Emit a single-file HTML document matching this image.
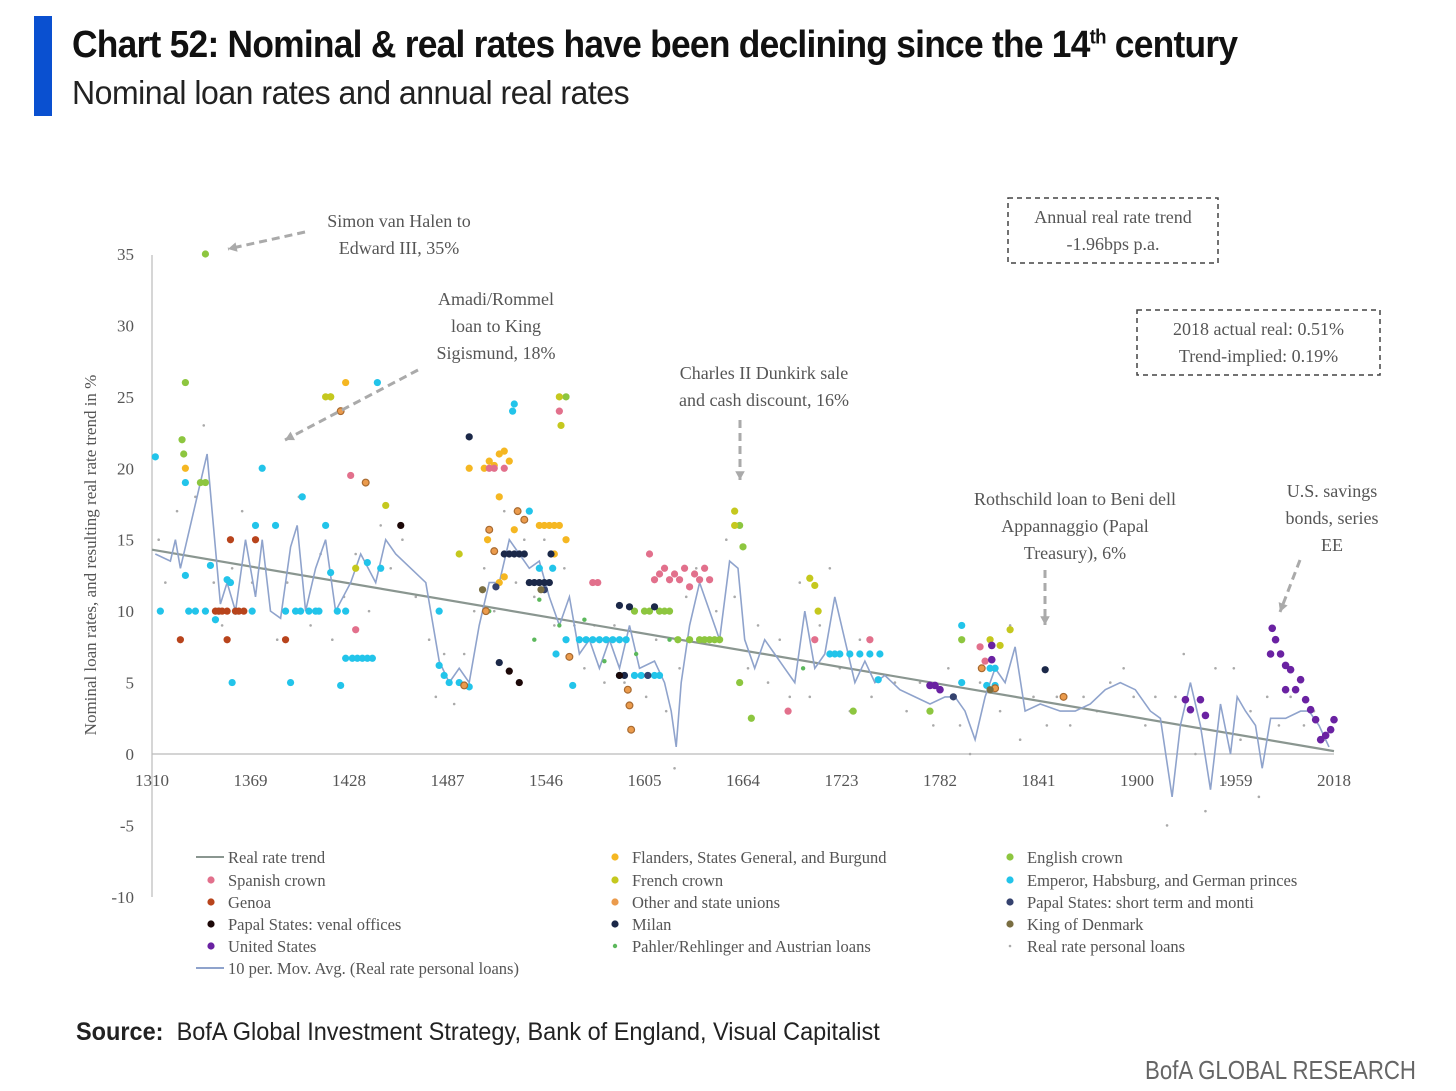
<!DOCTYPE html>
<html><head><meta charset="utf-8">
<style>
html,body{margin:0;padding:0;background:#fff;}
body{width:1456px;height:1091px;overflow:hidden;position:relative;font-family:"Liberation Sans",sans-serif;}
#bar{position:absolute;left:34px;top:16px;width:18px;height:100px;background:#0a50d0;}
#title{position:absolute;left:72px;top:24px;font-family:"Liberation Sans",sans-serif;font-weight:bold;font-size:38px;color:#111;letter-spacing:-0.8px;white-space:nowrap;transform:scaleX(0.93);transform-origin:0 0;}
#title sup{font-size:20px;}
#subtitle{position:absolute;left:72px;top:74px;font-family:"Liberation Sans",sans-serif;font-size:33px;color:#222;white-space:nowrap;letter-spacing:-0.5px;transform:scaleX(0.97);transform-origin:0 0;}
#source{position:absolute;left:76px;top:1018px;font-family:"Liberation Sans",sans-serif;font-size:25px;color:#222;white-space:nowrap;transform:scaleX(0.94);transform-origin:0 0;}
#brand{position:absolute;left:1145px;top:1055px;font-family:"Liberation Sans",sans-serif;font-size:26px;color:#666;white-space:nowrap;transform:scaleX(0.855);transform-origin:0 0;}
svg{position:absolute;left:0;top:0;}
svg text{font-family:"Liberation Serif",serif;fill:#555;}
</style></head><body>
<div id="bar"></div>
<div id="title">Chart 52: Nominal &amp; real rates have been declining since the 14<sup>th</sup> century</div>
<div id="subtitle">Nominal loan rates and annual real rates</div>
<div id="source"><b>Source:</b>&nbsp; BofA Global Investment Strategy, Bank of England, Visual Capitalist</div>
<div id="brand">BofA GLOBAL RESEARCH</div>
<svg id="chart" width="1456" height="1091" viewBox="0 0 1456 1091"></svg>
<script>
const xTicks=[1310,1369,1428,1487,1546,1605,1664,1723,1782,1841,1900,1959,2018];
const yTicks=[35,30,25,20,15,10,5,0,-5,-10];
const trendYears=[1310,2018];
const trendVals=[14.3,0.2];
const maYears=[1312,1321,1324,1327,1333,1339,1343,1346,1351,1355,1360,1366,1372,1376,1381,1387,1393,1397,1402,1408,1414,1420,1429,1435,1444,1450,1456,1465,1474,1482,1488,1494,1500,1506,1512,1518,1524,1530,1536,1542,1548,1554,1560,1566,1572,1578,1584,1590,1596,1602,1611,1617,1621,1624,1627,1632,1638,1644,1650,1656,1661,1665,1671,1677,1683,1689,1695,1701,1707,1713,1719,1725,1731,1737,1743,1749,1758,1767,1776,1785,1791,1797,1803,1809,1815,1821,1827,1833,1842,1854,1863,1872,1881,1890,1899,1908,1914,1921,1926,1932,1938,1944,1950,1956,1960,1965,1971,1975,1980,1989,1998,2003,2009,2015];
const maVals=[14,13.5,15,13,16,19,21,17,10.5,12,10,15,11,15,10,9.5,14.5,16,10,13,15,10,12,14,12,15,14,13,12,6.5,5,6,5,9,12,12,15,14,13,13.5,11,9,11,7,8,6,8,6,9,6,6.5,5,3,0.5,5,9,12,10,8,13.5,13,8,6,8,7,6,5,10,6,7,11,8,5,6.5,5,5.5,4.5,4,3.5,4,4,3,1,4,6,5,7.5,3,3.5,3,3,3.5,4.5,5,4.5,3,2.5,-3,2,5,2,-2.5,3.5,0,4,3,2,-1,2.5,2.5,3,3,2,0.5];
const personalLoans=[[1314,15],[1318,12],[1325,17],[1336,18],[1341,23],[1347,12],[1352,9],[1358,13],[1364,17],[1370,12],[1378,13],[1385,8],[1391,12],[1398,18],[1405,9],[1411,14],[1418,8],[1425,11],[1432,14],[1440,10],[1447,16],[1453,13],[1460,15],[1468,11],[1476,8],[1480,4],[1485,7],[1491,3.5],[1497,7],[1503,10],[1509,13],[1515,10],[1521,17],[1528,12],[1533,15],[1539,11],[1545,15],[1551,9],[1557,13],[1563,9],[1569,6],[1575,9],[1581,5],[1587,9],[1593,5],[1599,10],[1606,4],[1612,8],[1618,3],[1623,-1],[1626,6],[1630,11],[1636,13],[1642,8],[1648,10],[1654,15],[1659,11],[1667,6],[1673,9],[1679,5],[1686,8],[1692,4],[1698,12],[1704,4],[1710,9],[1716,13],[1722,6],[1728,3],[1734,8],[1741,4],[1747,7],[1755,5],[1762,3],[1770,5],[1778,2],[1787,6],[1794,2],[1800,0],[1806,5],[1812,8],[1818,3],[1824,9],[1830,1],[1838,4],[1846,2],[1852,4],[1860,2],[1868,4],[1876,3],[1884,5],[1892,6],[1898,4],[1905,2],[1911,4],[1918,-5],[1923,4],[1928,7],[1935,0],[1941,-4],[1947,6],[1953,-2],[1958,6],[1962,1],[1968,3],[1973,-3],[1978,4],[1985,2],[1992,4],[2000,2],[2006,3],[2012,1]];
const emperor=[[1312,20.8],[1315,10],[1330,19],[1330,12.5],[1332,10],[1336,10],[1342,10],[1345,13.2],[1348,9.4],[1350,10],[1355,12.2],[1357,12],[1358,5],[1360,10],[1370,10],[1372,16],[1376,20],[1384,16],[1390,10],[1393,5],[1396,10],[1399,10],[1400,18],[1404,10],[1408,10],[1410,10],[1414,16],[1417,12.7],[1421,10],[1423,4.8],[1426,6.7],[1426,10],[1430,6.7],[1433,6.7],[1436,6.7],[1439,6.7],[1442,6.7],[1445,26],[1439,13.4],[1447,13],[1482,10],[1482,6.2],[1485,5.5],[1488,5],[1494,5],[1500,4.7],[1527,24.5],[1526,24],[1536,17],[1542,13],[1550,13],[1552,7],[1558,8],[1562,4.8],[1566,8],[1570,8],[1574,8],[1578,8],[1582,8],[1586,8],[1590,8],[1594,8],[1590,5.5],[1599,5.5],[1603,5.5],[1607,5.5],[1611,5.5],[1614,5.5],[1716,7],[1719,7],[1722,7],[1728,7],[1734,7],[1740,7],[1746,7],[1745,5.2],[1795,9],[1795,5],[1810,4.8],[1812,6],[1815,4.8],[1815,6]];
const spanish=[[1429,19.5],[1432,8.7],[1512,20],[1515,20],[1521,20],[1554,24],[1574,12],[1577,12],[1608,14],[1611,12.2],[1614,12.6],[1617,13],[1620,12.2],[1623,12.6],[1626,12.2],[1629,13],[1632,11.7],[1635,12.6],[1638,12.2],[1641,13],[1644,12.2],[1691,3],[1707,8],[1740,8],[1806,7.5],[1809,6.5]];
const genoa=[[1327,8],[1348,10],[1350,10],[1352,10],[1355,10],[1357,15],[1360,10],[1362,10],[1372,15],[1365,10],[1390,8],[1355,8]];
const papalVenal=[[1459,16],[1524,5.8],[1530,5],[1590,5.5]];
const unitedStates=[[1981,8.8],[1980,7],[1983,8],[1986,7],[1989,6.2],[1992,5.9],[1989,4.5],[1995,4.5],[1998,5.2],[2001,3.8],[2004,3.1],[2007,2.4],[2010,1],[2013,1.3],[2016,1.7],[2018,2.4],[1938,3.8],[1941,2.7],[1929,3.8],[1932,3.1],[1776,4.8],[1779,4.8],[1782,4.5],[1813,7.6],[1813,6.6]];
const flanders=[[1330,20],[1426,26],[1512,20.5],[1515,20.2],[1518,21],[1521,21.2],[1524,20.5],[1509,20],[1518,18],[1527,15.7],[1542,16],[1545,16],[1548,16],[1551,16],[1554,16],[1500,20],[1511,15],[1518,12],[1521,12.4],[1551,14],[1558,15]];
const french=[[1414,25],[1417,25],[1450,17.4],[1432,13],[1494,14],[1554,25],[1555,23],[1659,17],[1659,16],[1704,12.3],[1709,10],[1707,11.8],[1824,8.7],[1818,7.6],[1812,8]];
const otherUnions=[[1423,24],[1438,19],[1510,10],[1512,15.7],[1515,14.2],[1529,17],[1533,16.4],[1560,6.8],[1595,4.5],[1596,3.4],[1597,1.7],[1497,4.8],[1856,4],[1815,4.6],[1807,6]];
const milan=[[1500,22.2],[1518,6.4],[1521,14],[1524,14],[1527,14],[1530,14],[1533,14],[1536,12],[1539,12],[1542,12],[1545,12],[1548,12],[1549,14],[1590,10.4],[1596,10.3],[1611,10.3],[1593,5.5],[1845,5.9]];
const english=[[1342,35],[1330,26],[1328,22],[1329,21],[1339,19],[1342,19],[1417,25],[1558,25],[1599,10],[1605,10],[1608,10],[1614,10],[1617,10],[1620,10],[1638,8],[1641,8],[1644,8],[1647,8],[1650,8],[1662,16],[1664,14.5],[1662,5],[1669,2.5],[1730,3],[1795,8],[1776,3],[1625,8],[1632,8]];
const pahler=[[1512,10],[1539,8],[1542,10.8],[1554,9],[1569,9.4],[1581,6.5],[1578,8],[1600,7],[1620,8],[1700,6]];
const papalShort=[[1516,11.7],[1545,11.5],[1607,5.5],[1790,4]];
const denmark=[[1508,11.5],[1543,11.5],[1812,4.5]];

const svg=document.getElementById('chart');
const NS='http://www.w3.org/2000/svg';
const X0=152,X1=1334,Y0=754,PXU=14.2857;
function xs(y){return X0+(y-1310)*(X1-X0)/708;}
function ys(v){return Y0-v*PXU;}
function mk(tag,attrs,parent){const e=document.createElementNS(NS,tag);for(const k in attrs)e.setAttribute(k,attrs[k]);(parent||svg).appendChild(e);return e;}

let ax=mk('line',{x1:X0,y1:255,x2:X0,y2:897,stroke:'#bbb','stroke-width':1.2});


let bx=mk('line',{x1:X0,y1:Y0,x2:X1,y2:Y0,stroke:'#bbb','stroke-width':1.2});


yTicks.forEach(v=>{const t=mk('text',{x:134,y:ys(v)+6,'text-anchor':'end','font-size':17});t.textContent=v;

});
xTicks.forEach(v=>{const t=mk('text',{x:xs(v),y:786,'text-anchor':'middle','font-size':17});t.textContent=v;

});
const yt=mk('text',{x:0,y:0,'text-anchor':'middle','font-size':17,transform:'translate(96,555) rotate(-90)'});
yt.textContent='Nominal loan rates, and resulting real rate trend in %';



personalLoans.forEach(p=>{const c=mk('circle',{cx:xs(p[0]),cy:ys(p[1]),r:1.3,fill:'#aaa'});

});

const tl=mk('line',{x1:xs(trendYears[0]),y1:ys(trendVals[0]),x2:xs(trendYears[1]),y2:ys(trendVals[1]),stroke:'#8a9690','stroke-width':2.2});



let d='';maYears.forEach((y,i)=>{d+=(i?'L':'M')+xs(y).toFixed(1)+','+ys(maVals[i]).toFixed(1);});
const ml=mk('path',{d:d,fill:'none',stroke:'#8fa3cc','stroke-width':1.6});



function series(arr,fill,r,name,stroke){arr.forEach(p=>{const c=mk('circle',{cx:xs(p[0]),cy:ys(p[1]),r:r,fill:fill});
if(stroke){c.setAttribute('stroke',stroke);c.setAttribute('stroke-width',1.2);}

});}
series(pahler,'#5cb85c',2.2,'pahler-point');
series(english,'#8dc63f',3.6,'english-crown-point');
series(emperor,'#22c4ea',3.6,'emperor-point');
series(flanders,'#f5b722',3.6,'flanders-point');
series(french,'#c5c81e',3.6,'french-crown-point');
series(otherUnions,'#eb9b4c',3.4,'other-unions-point','#a86a30');
series(spanish,'#e2708c',3.6,'spanish-crown-point');
series(genoa,'#b8441c',3.6,'genoa-point');
series(milan,'#1b2848',3.6,'milan-point');
series(papalShort,'#34426e',3.6,'papal-short-term-point');
series(denmark,'#7a6e42',3.6,'denmark-point');
series(papalVenal,'#1c0808',3.6,'papal-venal-point');
series(unitedStates,'#6a22a2',3.8,'united-states-point');

function txt(lines,cx,y0,name){lines.forEach((l,i)=>{const t=mk('text',{x:cx,y:y0+i*27,'text-anchor':'middle','font-size':18});t.textContent=l;

});}
function arrow(x1,y1,x2,y2,name){const l=mk('line',{x1:x1,y1:y1,x2:x2,y2:y2,stroke:'#aaa','stroke-width':3,'stroke-dasharray':'8,5'});


const a=Math.atan2(y2-y1,x2-x1),s=10;
const p=mk('polygon',{points:`${x2},${y2} ${x2-s*Math.cos(a-0.5)},${y2-s*Math.sin(a-0.5)} ${x2-s*Math.cos(a+0.5)},${y2-s*Math.sin(a+0.5)}`,fill:'#aaa'});

}
txt(['Simon van Halen to','Edward III, 35%'],399,227,'annotation-simon');
arrow(305,232,228,249,'arrow-simon');
txt(['Amadi/Rommel','loan to King','Sigismund, 18%'],496,305,'annotation-amadi');
arrow(418,370,285,440,'arrow-amadi');
txt(['Charles II Dunkirk sale','and cash discount, 16%'],764,379,'annotation-charles');
arrow(740,420,740,480,'arrow-charles');
txt(['Rothschild loan to Beni dell','Appannaggio (Papal','Treasury), 6%'],1075,505,'annotation-rothschild');
arrow(1045,570,1045,625,'arrow-rothschild');
txt(['U.S. savings','bonds, series','EE'],1332,497,'annotation-us-bonds');
arrow(1300,560,1280,612,'arrow-us-bonds');
function box(x,y,w,h,lines,name){const r=mk('rect',{x:x,y:y,width:w,height:h,fill:'none',stroke:'#444','stroke-width':1.5,'stroke-dasharray':'5,4'});


txt(lines,x+w/2,y+25,name+'-text');}
box(1008,198,210,65,['Annual real rate trend','-1.96bps p.a.'],'trend-box');
box(1137,310,243,65,['2018 actual real: 0.51%','Trend-implied: 0.19%'],'actual-box');

const legend=[
[196,857,'line','#8a9690','Real rate trend'],[196,880,'dot','#e2708c','Spanish crown'],[196,902,'dot','#b8441c','Genoa'],[196,924,'dot','#1c0808','Papal States: venal offices'],[196,946,'dot','#6a22a2','United States'],[196,968,'line','#8fa3cc','10 per. Mov. Avg. (Real rate personal loans)'],
[600,857,'dot','#f5b722','Flanders, States General, and Burgund'],[600,880,'dot','#c5c81e','French crown'],[600,902,'dot','#eb9b4c','Other and state unions'],[600,924,'dot','#1b2848','Milan'],[600,946,'sdot','#5cb85c','Pahler/Rehlinger and Austrian loans'],
[995,857,'dot','#8dc63f','English crown'],[995,880,'dot','#22c4ea','Emperor, Habsburg, and German princes'],[995,902,'dot','#34426e','Papal States: short term and monti'],[995,924,'dot','#7a6e42','King of Denmark'],[995,946,'gdot','#aaa','Real rate personal loans']];
legend.forEach(L=>{const g=mk('g',{});


const [x,y,k,c,label]=L;
if(k==='line')mk('line',{x1:x,y1:y,x2:x+28,y2:y,stroke:c,'stroke-width':2},g);
else mk('circle',{cx:x+15,cy:y,r:k==='dot'?3.6:(k==='sdot'?2.2:1.3),fill:c},g);
const t=mk('text',{x:x+32,y:y+6,'font-size':16.5},g);t.textContent=label;});
</script>
</body></html>
